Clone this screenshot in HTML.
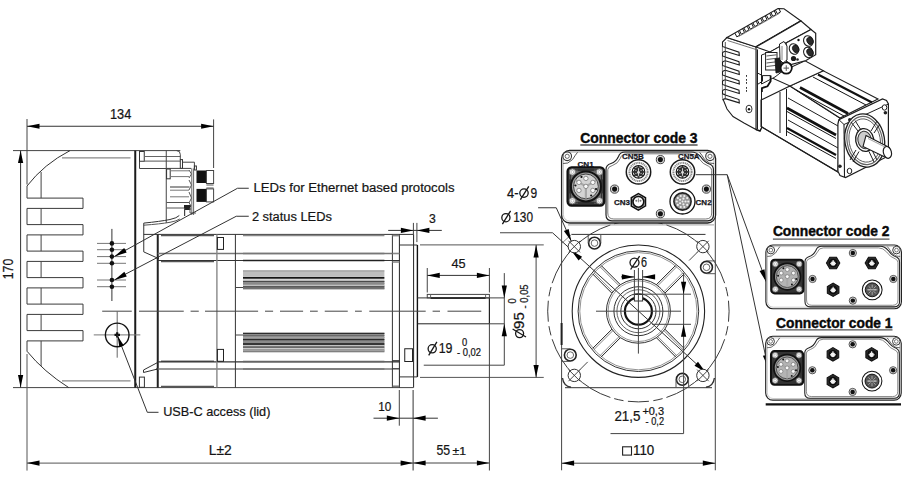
<!DOCTYPE html>
    <html><head><meta charset="utf-8"><style>
    html,body{margin:0;padding:0;background:#fff;}
    svg{display:block;}
    text{font-family:"Liberation Sans",sans-serif;}
    </style></head><body>
    <svg width="904" height="480" viewBox="0 0 904 480">
    <rect width="904" height="480" fill="#fff"/>
    <line x1="27.00" y1="119.00" x2="27.00" y2="184.50" stroke="#444" stroke-width="1" />
<line x1="213.60" y1="119.40" x2="213.60" y2="168.00" stroke="#444" stroke-width="1" />
<line x1="27.00" y1="126.25" x2="213.60" y2="126.25" stroke="#333" stroke-width="1" />
<polygon points="27.00,126.25 39.50,123.65 39.50,128.85" fill="#000"/>
<polygon points="213.60,126.25 201.10,128.85 201.10,123.65" fill="#000"/>
<text x="110.00" y="118.75" font-size="14" text-anchor="start" textLength="21.30" lengthAdjust="spacingAndGlyphs" fill="#141414"  stroke="#141414" stroke-width="0.22">134</text>
<line x1="13.00" y1="150.60" x2="180.30" y2="150.60" stroke="#444" stroke-width="1" />
<line x1="13.00" y1="387.60" x2="413.40" y2="387.60" stroke="#444" stroke-width="1" />
<line x1="20.60" y1="150.60" x2="20.60" y2="387.60" stroke="#333" stroke-width="1" />
<polygon points="20.60,150.60 23.20,163.10 18.00,163.10" fill="#000"/>
<polygon points="20.60,387.60 18.00,375.10 23.20,375.10" fill="#000"/>
<text x="13.20" y="269.00" font-size="14" text-anchor="middle" textLength="20.50" lengthAdjust="spacingAndGlyphs" transform="rotate(-90 13.20 269.00)" fill="#141414"  stroke="#141414" stroke-width="0.22">170</text>
<polyline points="27.00,186.00 27.00,198.10 83.00,198.10 83.00,208.40 27.00,208.40 27.00,224.60 83.00,224.60 83.00,234.90 27.00,234.90 27.00,251.10 83.00,251.10 83.00,261.40 27.00,261.40 27.00,277.60 83.00,277.60 83.00,287.90 27.00,287.90 27.00,304.10 83.00,304.10 83.00,314.40 27.00,314.40 27.00,330.60 83.00,330.60 83.00,340.90 27.00,340.90 27.00,351.25" fill="none" stroke="#3a3a3a" stroke-width="1" />
<path d="M27,186 Q44,164 70,150.6" fill="none" stroke="#333" stroke-width="1" />
<path d="M27,351.25 Q44,372 68.75,387.6" fill="none" stroke="#333" stroke-width="1" />
<line x1="41.10" y1="172.00" x2="41.10" y2="198.10" stroke="#444" stroke-width="1" />
<line x1="41.10" y1="208.40" x2="41.10" y2="224.60" stroke="#444" stroke-width="1" />
<line x1="41.10" y1="234.90" x2="41.10" y2="251.10" stroke="#444" stroke-width="1" />
<line x1="41.10" y1="261.40" x2="41.10" y2="277.60" stroke="#444" stroke-width="1" />
<line x1="41.10" y1="287.90" x2="41.10" y2="304.10" stroke="#444" stroke-width="1" />
<line x1="41.10" y1="314.40" x2="41.10" y2="330.60" stroke="#444" stroke-width="1" />
<line x1="41.10" y1="340.90" x2="41.10" y2="366.00" stroke="#444" stroke-width="1" />
<line x1="62.00" y1="157.90" x2="130.50" y2="157.90" stroke="#888" stroke-width="1.3" />
<line x1="62.00" y1="380.90" x2="130.50" y2="380.90" stroke="#888" stroke-width="1.3" />
<line x1="27.00" y1="354.00" x2="27.00" y2="470.60" stroke="#555" stroke-width="1" />
<line x1="135.25" y1="150.60" x2="135.25" y2="387.60" stroke="#1a1a1a" stroke-width="2" />
<line x1="139.50" y1="150.60" x2="139.50" y2="168.50" stroke="#444" stroke-width="1" />
<rect x="139.50" y="151.50" width="4.75" height="9.75" rx="0" fill="none" stroke="#333" stroke-width="1" />
<line x1="139.50" y1="168.50" x2="166.25" y2="168.50" stroke="#444" stroke-width="1" />
<line x1="144.25" y1="156.50" x2="180.30" y2="156.50" stroke="#666" stroke-width="1" />
<line x1="144.25" y1="161.10" x2="180.30" y2="161.10" stroke="#555" stroke-width="1" />
<line x1="166.25" y1="150.60" x2="166.25" y2="223.00" stroke="#444" stroke-width="1" />
<path d="M176.5,150.6 Q180.3,150.6 180.3,154.4 L180.3,159.6" fill="none" stroke="#444" stroke-width="1" />
<rect x="180.30" y="159.60" width="2.20" height="8.80" rx="0" fill="none" stroke="#333" stroke-width="1" />
<polyline points="182.50,162.20 194.40,162.20 194.40,168.40" fill="none" stroke="#444" stroke-width="1" />
<rect x="194.40" y="166.00" width="2.00" height="4.00" rx="0" fill="none" stroke="#333" stroke-width="1" />
<line x1="166.25" y1="168.40" x2="191.25" y2="168.40" stroke="#444" stroke-width="1" />
<rect x="166.60" y="169.00" width="3.60" height="9.80" rx="0" fill="none" stroke="#333" stroke-width="1" />
<line x1="170.00" y1="170.80" x2="189.00" y2="170.80" stroke="#777" stroke-width="1" />
<line x1="170.00" y1="176.60" x2="189.00" y2="176.60" stroke="#777" stroke-width="1" />
<line x1="170.00" y1="190.20" x2="189.00" y2="190.20" stroke="#777" stroke-width="1" />
<line x1="170.00" y1="196.80" x2="189.00" y2="196.80" stroke="#777" stroke-width="1" />
<line x1="170.00" y1="187.00" x2="189.50" y2="187.00" stroke="#555" stroke-width="1.2" />
<path d="M189,170 L191.5,174 L189,178" fill="none" stroke="#555" stroke-width="1" />
<path d="M189,180 L191.5,185 L189,190" fill="none" stroke="#555" stroke-width="1" />
<path d="M189,192 L191.5,198 L189,203" fill="none" stroke="#555" stroke-width="1" />
<line x1="191.80" y1="168.40" x2="191.80" y2="215.00" stroke="#666" stroke-width="1" />
<line x1="193.60" y1="168.40" x2="193.60" y2="215.00" stroke="#666" stroke-width="1" />
<rect x="196.50" y="170.50" width="9.90" height="12.50" rx="0" fill="#111" stroke="none" stroke-width="0" />
<rect x="196.50" y="188.90" width="9.90" height="13.00" rx="0" fill="#111" stroke="none" stroke-width="0" />
<rect x="206.40" y="170.50" width="7.20" height="13.00" rx="0" fill="none" stroke="#444" stroke-width="1" />
<rect x="206.40" y="188.90" width="7.20" height="13.00" rx="0" fill="none" stroke="#444" stroke-width="1" />
<line x1="206.40" y1="185.00" x2="213.60" y2="185.00" stroke="#555" stroke-width="1" />
<line x1="206.40" y1="188.00" x2="213.60" y2="188.00" stroke="#555" stroke-width="1" />
<path d="M166.5,202.5 L189,202.5 L191,206 L189,208 L166.5,208" fill="none" stroke="#555" stroke-width="1" />
<rect x="184.00" y="205.00" width="6.50" height="5.00" rx="0" fill="#222" stroke="none" stroke-width="0" />
<line x1="184.60" y1="208.00" x2="184.60" y2="216.00" stroke="#444" stroke-width="1.2" />
<polyline points="190.00,208.00 190.00,213.00 196.00,213.00" fill="none" stroke="#555" stroke-width="1" />
<path d="M143.75,223.1 Q160,221.5 170,219.5 Q177,218 179.3,215.5" fill="none" stroke="#333" stroke-width="1" />
<path d="M143.75,225.2 Q160,224 170,222.3 Q177,221 179.8,219" fill="none" stroke="#555" stroke-width="1" />
<line x1="143.75" y1="223.10" x2="143.75" y2="251.90" stroke="#333" stroke-width="1" />
<line x1="143.75" y1="251.90" x2="157.60" y2="258.10" stroke="#333" stroke-width="1" />
<circle cx="157.70" cy="258.10" r="1.20" fill="#111" stroke="none" stroke-width="0" />
<path d="M157.6,362.5 L143.5,370 L143.5,372.5 L157.6,369" fill="none" stroke="#333" stroke-width="1" />
<circle cx="157.70" cy="369.00" r="1.30" fill="#111" stroke="none" stroke-width="0" />
<rect x="139.40" y="377.10" width="5.00" height="10.20" rx="0" fill="none" stroke="#333" stroke-width="1" />
<line x1="143.75" y1="234.40" x2="413.60" y2="234.40" stroke="#333" stroke-width="1" />
<line x1="157.75" y1="234.40" x2="157.75" y2="387.60" stroke="#222" stroke-width="2" />
<line x1="161.00" y1="235.60" x2="214.00" y2="235.60" stroke="#555" stroke-width="1.3" />
<line x1="161.00" y1="361.30" x2="214.00" y2="361.30" stroke="#666" stroke-width="1.6" />
<line x1="161.00" y1="386.40" x2="214.00" y2="386.40" stroke="#555" stroke-width="1.3" />
<line x1="161.00" y1="261.50" x2="214.00" y2="261.50" stroke="#555" stroke-width="1.6" />
<line x1="157.75" y1="253.50" x2="392.40" y2="253.50" stroke="#777" stroke-width="1.3" />
<line x1="157.75" y1="260.50" x2="399.40" y2="260.50" stroke="#333" stroke-width="1.1" />
<line x1="157.75" y1="369.00" x2="392.40" y2="369.00" stroke="#777" stroke-width="1.3" />
<line x1="157.75" y1="361.90" x2="399.40" y2="361.90" stroke="#333" stroke-width="1.1" />
<line x1="216.90" y1="234.40" x2="216.90" y2="387.60" stroke="#888" stroke-width="1.4" />
<line x1="235.40" y1="234.40" x2="235.40" y2="387.60" stroke="#333" stroke-width="1" />
<rect x="217.40" y="237.50" width="6.10" height="11.90" rx="0" fill="none" stroke="#222" stroke-width="1" />
<rect x="217.40" y="349.40" width="6.10" height="11.90" rx="0" fill="none" stroke="#222" stroke-width="1" />
<line x1="235.40" y1="287.50" x2="243.00" y2="287.50" stroke="#444" stroke-width="1" />
<line x1="235.40" y1="335.00" x2="243.00" y2="335.00" stroke="#444" stroke-width="1" />
<line x1="243.00" y1="235.60" x2="384.40" y2="235.60" stroke="#888" stroke-width="1.5" />
<line x1="243.00" y1="253.50" x2="384.40" y2="253.50" stroke="#777" stroke-width="1.6" />
<line x1="243.00" y1="260.50" x2="384.40" y2="260.50" stroke="#222" stroke-width="1.3" />
<rect x="243.00" y="270.40" width="141.40" height="6.50" rx="0" fill="#bdbdbd" stroke="none" stroke-width="0" />
<rect x="243.00" y="280.40" width="141.40" height="9.00" rx="0" fill="#8c8c8c" stroke="none" stroke-width="0" />
<line x1="243.00" y1="270.90" x2="384.40" y2="270.90" stroke="#8a8a8a" stroke-width="0.8" />
<line x1="243.00" y1="277.90" x2="384.40" y2="277.90" stroke="#141414" stroke-width="1.6" />
<line x1="243.00" y1="279.70" x2="384.40" y2="279.70" stroke="#c4c4c4" stroke-width="0.9" />
<line x1="243.00" y1="281.50" x2="384.40" y2="281.50" stroke="#4a4a4a" stroke-width="1.1" />
<line x1="243.00" y1="283.40" x2="384.40" y2="283.40" stroke="#8a8a8a" stroke-width="1" />
<line x1="243.00" y1="285.30" x2="384.40" y2="285.30" stroke="#d6d6d6" stroke-width="0.9" />
<line x1="243.00" y1="286.80" x2="384.40" y2="286.80" stroke="#4a4a4a" stroke-width="1.2" />
<line x1="243.00" y1="288.60" x2="384.40" y2="288.60" stroke="#707070" stroke-width="1" />
<rect x="243.00" y="332.80" width="141.40" height="19.40" rx="0" fill="#8c8c8c" stroke="none" stroke-width="0" />
<line x1="243.00" y1="333.30" x2="384.40" y2="333.30" stroke="#2e2e2e" stroke-width="1.2" />
<line x1="243.00" y1="335.50" x2="384.40" y2="335.50" stroke="#6a6a6a" stroke-width="1" />
<line x1="243.00" y1="337.50" x2="384.40" y2="337.50" stroke="#a0a0a0" stroke-width="1" />
<line x1="243.00" y1="339.60" x2="384.40" y2="339.60" stroke="#2a2a2a" stroke-width="1.2" />
<line x1="243.00" y1="341.80" x2="384.40" y2="341.80" stroke="#8a8a8a" stroke-width="1" />
<line x1="243.00" y1="344.00" x2="384.40" y2="344.00" stroke="#1a1a1a" stroke-width="1.3" />
<line x1="243.00" y1="345.60" x2="384.40" y2="345.60" stroke="#cfcfcf" stroke-width="0.9" />
<line x1="243.00" y1="347.10" x2="384.40" y2="347.10" stroke="#555" stroke-width="1" />
<line x1="243.00" y1="348.60" x2="384.40" y2="348.60" stroke="#e2e2e2" stroke-width="0.8" />
<line x1="243.00" y1="350.30" x2="384.40" y2="350.30" stroke="#a0a0a0" stroke-width="1.4" />
<line x1="243.00" y1="351.70" x2="384.40" y2="351.70" stroke="#7a7a7a" stroke-width="0.8" />
<line x1="243.00" y1="361.50" x2="384.40" y2="361.50" stroke="#666" stroke-width="1.6" />
<line x1="243.00" y1="369.00" x2="384.40" y2="369.00" stroke="#777" stroke-width="1.3" />
<line x1="392.40" y1="234.40" x2="392.40" y2="387.60" stroke="#333" stroke-width="1" />
<line x1="399.40" y1="234.40" x2="399.40" y2="387.60" stroke="#222" stroke-width="1" />
<line x1="392.40" y1="235.60" x2="399.40" y2="235.60" stroke="#888" stroke-width="1.6" />
<line x1="392.40" y1="253.50" x2="399.40" y2="253.50" stroke="#888" stroke-width="1.6" />
<line x1="392.40" y1="262.00" x2="399.40" y2="262.00" stroke="#888" stroke-width="1.6" />
<line x1="392.40" y1="360.80" x2="399.40" y2="360.80" stroke="#333" stroke-width="1.3" />
<line x1="392.40" y1="368.80" x2="399.40" y2="368.80" stroke="#333" stroke-width="1.3" />
<line x1="392.40" y1="386.20" x2="399.40" y2="386.20" stroke="#666" stroke-width="1.3" />
<line x1="413.60" y1="234.40" x2="413.60" y2="387.60" stroke="#222" stroke-width="1" />
<line x1="399.40" y1="245.00" x2="417.30" y2="245.00" stroke="#333" stroke-width="1" />
<line x1="399.40" y1="376.90" x2="417.30" y2="376.90" stroke="#333" stroke-width="1" />
<line x1="417.40" y1="245.00" x2="417.40" y2="376.90" stroke="#111" stroke-width="1.4" />
<rect x="404.75" y="348.75" width="7.75" height="12.75" rx="0" fill="none" stroke="#222" stroke-width="1" />
<line x1="102.20" y1="311.20" x2="131.75" y2="311.20" stroke="#444" stroke-width="1" />
<line x1="139.00" y1="311.20" x2="183.75" y2="311.20" stroke="#444" stroke-width="1" />
<line x1="190.60" y1="311.20" x2="198.75" y2="311.20" stroke="#444" stroke-width="1" />
<line x1="205.00" y1="311.20" x2="258.10" y2="311.20" stroke="#444" stroke-width="1" />
<line x1="265.00" y1="311.20" x2="273.10" y2="311.20" stroke="#444" stroke-width="1" />
<line x1="280.00" y1="311.20" x2="303.10" y2="311.20" stroke="#444" stroke-width="1" />
<line x1="310.00" y1="311.20" x2="317.75" y2="311.20" stroke="#444" stroke-width="1" />
<line x1="324.75" y1="311.20" x2="347.75" y2="311.20" stroke="#444" stroke-width="1" />
<line x1="355.00" y1="311.20" x2="361.80" y2="311.20" stroke="#444" stroke-width="1" />
<line x1="369.30" y1="311.20" x2="425.70" y2="311.20" stroke="#444" stroke-width="1" />
<line x1="432.60" y1="311.20" x2="440.00" y2="311.20" stroke="#444" stroke-width="1" />
<line x1="447.50" y1="311.20" x2="481.25" y2="311.20" stroke="#444" stroke-width="1" />
<line x1="417.40" y1="297.90" x2="489.40" y2="297.90" stroke="#333" stroke-width="1" />
<line x1="417.40" y1="323.80" x2="489.40" y2="323.80" stroke="#222" stroke-width="1" />
<line x1="489.40" y1="297.90" x2="489.40" y2="323.80" stroke="#222" stroke-width="1.2" />
<rect x="427.25" y="294.40" width="62.15" height="3.50" rx="0" fill="none" stroke="#444" stroke-width="1" />
<line x1="430.60" y1="294.40" x2="430.60" y2="297.90" stroke="#666" stroke-width="1" />
<line x1="485.60" y1="294.40" x2="485.60" y2="297.90" stroke="#666" stroke-width="1" />
<line x1="430.60" y1="298.20" x2="485.60" y2="298.20" stroke="#111" stroke-width="1.3" />
<line x1="413.40" y1="222.90" x2="413.40" y2="234.40" stroke="#444" stroke-width="1" />
<line x1="416.90" y1="222.90" x2="416.90" y2="242.10" stroke="#444" stroke-width="1" />
<line x1="388.20" y1="230.40" x2="441.80" y2="230.40" stroke="#333" stroke-width="1" />
<polygon points="413.40,230.40 400.90,233.00 400.90,227.80" fill="#000"/>
<polygon points="416.90,230.40 429.40,227.80 429.40,233.00" fill="#000"/>
<text x="429.00" y="222.60" font-size="13.4" text-anchor="start" textLength="6.80" lengthAdjust="spacingAndGlyphs" fill="#141414"  stroke="#141414" stroke-width="0.22">3</text>
<line x1="427.25" y1="268.00" x2="427.25" y2="292.50" stroke="#444" stroke-width="1" />
<line x1="489.40" y1="268.00" x2="489.40" y2="292.50" stroke="#444" stroke-width="1" />
<line x1="427.25" y1="275.40" x2="489.40" y2="275.40" stroke="#333" stroke-width="1" />
<polygon points="427.25,275.40 439.75,272.80 439.75,278.00" fill="#000"/>
<polygon points="489.40,275.40 476.90,278.00 476.90,272.80" fill="#000"/>
<text x="451.50" y="267.90" font-size="13.6" text-anchor="start" textLength="14.20" lengthAdjust="spacingAndGlyphs" fill="#141414"  stroke="#141414" stroke-width="0.22">45</text>
<line x1="420.00" y1="244.90" x2="543.75" y2="244.90" stroke="#555" stroke-width="1" />
<line x1="420.00" y1="377.40" x2="543.75" y2="377.40" stroke="#555" stroke-width="1" />
<line x1="536.10" y1="244.90" x2="536.10" y2="377.40" stroke="#444" stroke-width="1" />
<polygon points="536.10,244.90 538.70,257.40 533.50,257.40" fill="#000"/>
<polygon points="536.10,377.40 533.50,364.90 538.70,364.90" fill="#000"/>
<g transform="translate(523.8 337.6) rotate(-90)"><circle cx="4.00" cy="-4.20" r="4.00" fill="none" stroke="#161616" stroke-width="1.3"/><line x1="0.60" y1="2.20" x2="8.60" y2="-11.20" stroke="#161616" stroke-width="1.3"/></g>
<text x="523.80" y="328.90" font-size="14" text-anchor="start" textLength="16.70" lengthAdjust="spacingAndGlyphs" transform="rotate(-90 523.80 328.90)" fill="#141414"  stroke="#141414" stroke-width="0.22">95</text>
<text x="516.40" y="303.40" font-size="10.5" text-anchor="start" textLength="5.20" lengthAdjust="spacingAndGlyphs" transform="rotate(-90 516.40 303.40)" fill="#141414"  stroke="#141414" stroke-width="0.22">0</text>
<text x="527.60" y="308.40" font-size="10.5" text-anchor="start" textLength="24.00" lengthAdjust="spacingAndGlyphs" transform="rotate(-90 527.60 308.40)" fill="#141414"  stroke="#141414" stroke-width="0.22">- 0,05</text>
<line x1="489.40" y1="297.90" x2="504.30" y2="297.90" stroke="#444" stroke-width="1" />
<line x1="489.40" y1="323.80" x2="504.30" y2="323.80" stroke="#444" stroke-width="1" />
<line x1="504.30" y1="273.10" x2="504.30" y2="365.20" stroke="#444" stroke-width="1" />
<line x1="423.75" y1="365.20" x2="504.30" y2="365.20" stroke="#444" stroke-width="1" />
<polygon points="504.30,297.90 501.70,285.40 506.90,285.40" fill="#000"/>
<polygon points="504.30,323.80 506.90,336.30 501.70,336.30" fill="#000"/>
<circle cx="432.20" cy="348.80" r="4.10" fill="none" stroke="#161616" stroke-width="1.3"/><line x1="428.70" y1="355.30" x2="436.90" y2="341.90" stroke="#161616" stroke-width="1.3"/>
<text x="438.70" y="353.10" font-size="14" text-anchor="start" textLength="13.80" lengthAdjust="spacingAndGlyphs" fill="#141414"  stroke="#141414" stroke-width="0.22">19</text>
<text x="462.00" y="345.60" font-size="10" text-anchor="start" textLength="5.20" lengthAdjust="spacingAndGlyphs" fill="#141414"  stroke="#141414" stroke-width="0.22">0</text>
<text x="457.00" y="355.60" font-size="10" text-anchor="start" textLength="24.00" lengthAdjust="spacingAndGlyphs" fill="#141414"  stroke="#141414" stroke-width="0.22">- 0,02</text>
<line x1="489.40" y1="323.80" x2="489.40" y2="470.50" stroke="#444" stroke-width="1" />
<line x1="399.30" y1="390.00" x2="399.30" y2="425.70" stroke="#444" stroke-width="1" />
<line x1="413.10" y1="390.00" x2="413.10" y2="470.50" stroke="#333" stroke-width="1" />
<line x1="373.50" y1="418.20" x2="437.90" y2="418.20" stroke="#333" stroke-width="1" />
<polygon points="399.30,418.20 386.80,420.80 386.80,415.60" fill="#000"/>
<polygon points="413.10,418.20 425.60,415.60 425.60,420.80" fill="#000"/>
<text x="378.20" y="410.70" font-size="13.7" text-anchor="start" textLength="13.10" lengthAdjust="spacingAndGlyphs" fill="#141414"  stroke="#141414" stroke-width="0.22">10</text>
<line x1="413.10" y1="463.00" x2="489.40" y2="463.00" stroke="#444" stroke-width="1" />
<polygon points="413.10,463.00 425.60,460.40 425.60,465.60" fill="#000"/>
<polygon points="489.40,463.00 476.90,465.60 476.90,460.40" fill="#000"/>
<text x="436.40" y="455.20" font-size="14" text-anchor="start" textLength="13.70" lengthAdjust="spacingAndGlyphs" fill="#141414"  stroke="#141414" stroke-width="0.22">55</text>
<text x="452.60" y="455.20" font-size="10" text-anchor="start" textLength="13.50" lengthAdjust="spacingAndGlyphs" fill="#141414"  stroke="#141414" stroke-width="0.22">±1</text>
<line x1="27.00" y1="463.10" x2="413.10" y2="463.10" stroke="#555" stroke-width="1" />
<polygon points="27.00,463.10 39.50,460.50 39.50,465.70" fill="#000"/>
<polygon points="413.10,463.10 400.60,465.70 400.60,460.50" fill="#000"/>
<text x="208.75" y="455.20" font-size="14" text-anchor="start" textLength="23.00" lengthAdjust="spacingAndGlyphs" fill="#141414"  stroke="#141414" stroke-width="0.22">L±2</text>
<line x1="111.90" y1="228.90" x2="111.90" y2="301.00" stroke="#333" stroke-width="1" />
<line x1="97.00" y1="243.40" x2="126.00" y2="243.40" stroke="#777" stroke-width="1" />
<circle cx="111.90" cy="243.40" r="2.30" fill="#111" stroke="none" stroke-width="0" />
<line x1="97.00" y1="249.70" x2="126.00" y2="249.70" stroke="#777" stroke-width="1" />
<circle cx="111.90" cy="249.70" r="2.30" fill="#111" stroke="none" stroke-width="0" />
<line x1="97.00" y1="256.60" x2="126.00" y2="256.60" stroke="#777" stroke-width="1" />
<circle cx="111.90" cy="256.60" r="2.30" fill="#111" stroke="none" stroke-width="0" />
<line x1="97.00" y1="263.30" x2="126.00" y2="263.30" stroke="#777" stroke-width="1" />
<circle cx="111.90" cy="263.30" r="2.30" fill="#111" stroke="none" stroke-width="0" />
<line x1="97.00" y1="280.00" x2="126.00" y2="280.00" stroke="#777" stroke-width="1" />
<circle cx="111.90" cy="280.00" r="2.30" fill="#111" stroke="none" stroke-width="0" />
<line x1="97.00" y1="286.70" x2="126.00" y2="286.70" stroke="#777" stroke-width="1" />
<circle cx="111.90" cy="286.70" r="2.30" fill="#111" stroke="none" stroke-width="0" />
<polyline points="248.75,188.25 237.50,188.25 114.50,256.40" fill="none" stroke="#333" stroke-width="1" />
<polygon points="114.50,256.40 124.17,248.06 126.69,252.61" fill="#000"/>
<polyline points="248.75,216.25 236.25,216.25 114.50,279.90" fill="none" stroke="#333" stroke-width="1" />
<polygon points="114.50,279.90 124.37,271.80 126.78,276.41" fill="#000"/>
<text x="253.50" y="192.30" font-size="13.7" text-anchor="start" textLength="201.00" lengthAdjust="spacingAndGlyphs" fill="#141414"  stroke="#141414" stroke-width="0.22">LEDs for Ethernet based protocols</text>
<text x="251.90" y="220.60" font-size="13.7" text-anchor="start" textLength="80.00" lengthAdjust="spacingAndGlyphs" fill="#141414"  stroke="#141414" stroke-width="0.22">2 status LEDs</text>
<line x1="117.20" y1="311.20" x2="117.20" y2="357.70" stroke="#666" stroke-width="1" />
<line x1="93.75" y1="334.90" x2="140.30" y2="334.90" stroke="#777" stroke-width="1" />
<circle cx="117.20" cy="334.90" r="11.80" fill="none" stroke="#111" stroke-width="1.4" />
<path d="M114.5,334.9 L120,334.9 M117.2,332.2 L117.2,337.5" fill="none" stroke="#111" stroke-width="2.2" />
<polyline points="158.50,412.30 147.30,412.30 117.20,334.90" fill="none" stroke="#333" stroke-width="1" />
<polygon points="117.60,336.00 123.82,345.38 119.35,347.12" fill="#000"/>
<text x="163.20" y="416.20" font-size="13.6" text-anchor="start" textLength="107.20" lengthAdjust="spacingAndGlyphs" fill="#141414"  stroke="#141414" stroke-width="0.22">USB-C access (lid)</text>
<text x="580.30" y="142.50" font-size="13.9" text-anchor="start" font-weight="bold" textLength="117.30" lengthAdjust="spacingAndGlyphs" fill="#0a0a0a" stroke="#0a0a0a" stroke-width="0.4">Connector code 3</text>
<line x1="580.30" y1="145.00" x2="697.60" y2="145.00" stroke="#555" stroke-width="1.3" />
<text x="772.90" y="236.40" font-size="13.9" text-anchor="start" font-weight="bold" textLength="116.60" lengthAdjust="spacingAndGlyphs" fill="#0a0a0a" stroke="#0a0a0a" stroke-width="0.4">Connector code 2</text>
<line x1="772.90" y1="239.10" x2="889.50" y2="239.10" stroke="#555" stroke-width="1.3" />
<text x="776.00" y="328.00" font-size="13.9" text-anchor="start" font-weight="bold" textLength="116.50" lengthAdjust="spacingAndGlyphs" fill="#0a0a0a" stroke="#0a0a0a" stroke-width="0.4">Connector code 1</text>
<line x1="776.00" y1="329.90" x2="892.50" y2="329.90" stroke="#555" stroke-width="1.3" />
<line x1="561.60" y1="160.00" x2="561.60" y2="470.30" stroke="#444" stroke-width="1" />
<line x1="561.60" y1="323.00" x2="561.60" y2="345.00" stroke="#222" stroke-width="2" />
<line x1="715.30" y1="160.00" x2="715.30" y2="470.30" stroke="#444" stroke-width="1" />
<line x1="571.50" y1="234.40" x2="705.50" y2="234.40" stroke="#333" stroke-width="1" />
<line x1="565.00" y1="387.70" x2="712.00" y2="387.70" stroke="#333" stroke-width="1" />
<line x1="561.60" y1="243.50" x2="571.50" y2="234.40" stroke="#666" stroke-width="0.8" />
<path d="M562.5,378 Q563.5,386 571,387.3" fill="none" stroke="#333" stroke-width="1.4" />
<path d="M714.4,378 Q713.4,386 706,387.3" fill="none" stroke="#333" stroke-width="1.4" />
<path d="M725.81,287.00 A90.7,90.7 0 0 1 727.86,296.27" fill="none" stroke="#3a3a3a" stroke-width="1" />
<path d="M728.49,300.72 A90.7,90.7 0 0 1 728.49,321.68" fill="none" stroke="#3a3a3a" stroke-width="1" />
<path d="M727.86,326.13 A90.7,90.7 0 0 1 725.81,335.40" fill="none" stroke="#3a3a3a" stroke-width="1" />
<path d="M724.66,339.23 A90.7,90.7 0 0 1 666.43,397.46" fill="none" stroke="#3a3a3a" stroke-width="1" />
<path d="M662.60,398.61 A90.7,90.7 0 0 1 653.33,400.66" fill="none" stroke="#3a3a3a" stroke-width="1" />
<path d="M648.88,401.29 A90.7,90.7 0 0 1 627.92,401.29" fill="none" stroke="#3a3a3a" stroke-width="1" />
<path d="M623.47,400.66 A90.7,90.7 0 0 1 614.20,398.61" fill="none" stroke="#3a3a3a" stroke-width="1" />
<path d="M610.37,397.46 A90.7,90.7 0 0 1 552.14,339.23" fill="none" stroke="#3a3a3a" stroke-width="1" />
<path d="M550.99,335.40 A90.7,90.7 0 0 1 548.94,326.13" fill="none" stroke="#3a3a3a" stroke-width="1" />
<path d="M548.31,321.68 A90.7,90.7 0 0 1 548.31,300.72" fill="none" stroke="#3a3a3a" stroke-width="1" />
<path d="M548.94,296.27 A90.7,90.7 0 0 1 550.99,287.00" fill="none" stroke="#3a3a3a" stroke-width="1" />
<path d="M552.14,283.17 A90.7,90.7 0 0 1 610.37,224.94" fill="none" stroke="#3a3a3a" stroke-width="1" />
<path d="M614.20,223.79 A90.7,90.7 0 0 1 623.47,221.74" fill="none" stroke="#3a3a3a" stroke-width="1" />
<path d="M627.92,221.11 A90.7,90.7 0 0 1 648.88,221.11" fill="none" stroke="#3a3a3a" stroke-width="1" />
<path d="M653.33,221.74 A90.7,90.7 0 0 1 662.60,223.79" fill="none" stroke="#3a3a3a" stroke-width="1" />
<path d="M666.43,224.94 A90.7,90.7 0 0 1 724.66,283.17" fill="none" stroke="#3a3a3a" stroke-width="1" />
<circle cx="638.40" cy="311.20" r="66.20" fill="none" stroke="#222" stroke-width="1.1" />
<circle cx="638.40" cy="311.20" r="60.30" fill="none" stroke="#333" stroke-width="1.0" />
<circle cx="638.40" cy="311.20" r="58.60" fill="none" stroke="#777" stroke-width="0.8" />
<line x1="656.08" y1="337.36" x2="675.59" y2="356.88" stroke="#222" stroke-width="1" />
<line x1="657.28" y1="336.16" x2="676.80" y2="355.68" stroke="#666" stroke-width="0.8" />
<line x1="664.56" y1="328.88" x2="684.08" y2="348.39" stroke="#222" stroke-width="1" />
<line x1="663.36" y1="330.08" x2="682.88" y2="349.60" stroke="#666" stroke-width="0.8" />
<line x1="612.24" y1="328.88" x2="592.72" y2="348.39" stroke="#222" stroke-width="1" />
<line x1="613.44" y1="330.08" x2="593.92" y2="349.60" stroke="#666" stroke-width="0.8" />
<line x1="620.72" y1="337.36" x2="601.21" y2="356.88" stroke="#222" stroke-width="1" />
<line x1="619.52" y1="336.16" x2="600.00" y2="355.68" stroke="#666" stroke-width="0.8" />
<line x1="620.72" y1="285.04" x2="601.21" y2="265.52" stroke="#222" stroke-width="1" />
<line x1="619.52" y1="286.24" x2="600.00" y2="266.72" stroke="#666" stroke-width="0.8" />
<line x1="612.24" y1="293.52" x2="592.72" y2="274.01" stroke="#222" stroke-width="1" />
<line x1="613.44" y1="292.32" x2="593.92" y2="272.80" stroke="#666" stroke-width="0.8" />
<line x1="664.56" y1="293.52" x2="684.08" y2="274.01" stroke="#222" stroke-width="1" />
<line x1="663.36" y1="292.32" x2="682.88" y2="272.80" stroke="#666" stroke-width="0.8" />
<line x1="656.08" y1="285.04" x2="675.59" y2="265.52" stroke="#222" stroke-width="1" />
<line x1="657.28" y1="286.24" x2="676.80" y2="266.72" stroke="#666" stroke-width="0.8" />
<circle cx="638.40" cy="311.20" r="32.00" fill="#fff" stroke="#333" stroke-width="1" />
<circle cx="638.40" cy="311.20" r="30.30" fill="none" stroke="#777" stroke-width="0.8" />
<circle cx="638.40" cy="311.20" r="24.50" fill="none" stroke="#333" stroke-width="1" />
<circle cx="638.40" cy="311.20" r="21.50" fill="none" stroke="#555" stroke-width="0.9" />
<circle cx="638.40" cy="311.20" r="17.60" fill="none" stroke="#333" stroke-width="1" />
<circle cx="638.40" cy="311.20" r="13.50" fill="#fff" stroke="#111" stroke-width="2.2" />
<rect x="634.40" y="294.50" width="8.20" height="6.50" rx="0" fill="#fff" stroke="#333" stroke-width="1" />
<line x1="596.00" y1="311.20" x2="681.00" y2="311.20" stroke="#444" stroke-width="1" />
<line x1="638.40" y1="268.00" x2="638.40" y2="353.60" stroke="#444" stroke-width="1" />
<line x1="634.40" y1="270.00" x2="634.40" y2="300.00" stroke="#444" stroke-width="1" />
<line x1="642.60" y1="270.00" x2="642.60" y2="300.00" stroke="#444" stroke-width="1" />
<line x1="552.50" y1="232.75" x2="706.00" y2="372.60" stroke="#333" stroke-width="1" />
<line x1="500.00" y1="232.75" x2="552.50" y2="232.75" stroke="#444" stroke-width="1" />
<polygon points="571.10,250.30 582.11,256.76 578.62,260.62" fill="#000"/>
<polygon points="705.50,372.10 694.49,365.64 697.98,361.78" fill="#000"/>
<circle cx="574.30" cy="246.60" r="6.20" fill="#fff" stroke="#333" stroke-width="1" />
<line x1="568.50" y1="240.80" x2="580.10" y2="252.40" stroke="#333" stroke-width="0.9" />
<line x1="568.50" y1="252.40" x2="580.10" y2="240.80" stroke="#333" stroke-width="0.9" />
<circle cx="702.90" cy="246.60" r="6.20" fill="#fff" stroke="#333" stroke-width="1" />
<line x1="697.10" y1="240.80" x2="708.70" y2="252.40" stroke="#333" stroke-width="0.9" />
<line x1="697.10" y1="252.40" x2="708.70" y2="240.80" stroke="#333" stroke-width="0.9" />
<circle cx="574.30" cy="375.40" r="6.20" fill="#fff" stroke="#333" stroke-width="1" />
<line x1="568.50" y1="369.60" x2="580.10" y2="381.20" stroke="#333" stroke-width="0.9" />
<line x1="568.50" y1="381.20" x2="580.10" y2="369.60" stroke="#333" stroke-width="0.9" />
<circle cx="702.90" cy="375.40" r="6.20" fill="#fff" stroke="#333" stroke-width="1" />
<line x1="697.10" y1="369.60" x2="708.70" y2="381.20" stroke="#333" stroke-width="0.9" />
<line x1="697.10" y1="381.20" x2="708.70" y2="369.60" stroke="#333" stroke-width="0.9" />
<line x1="697.58" y1="252.02" x2="689.10" y2="260.50" stroke="#333" stroke-width="0.9" />
<line x1="579.22" y1="370.38" x2="587.70" y2="361.90" stroke="#333" stroke-width="0.9" />
<circle cx="594.50" cy="243.10" r="5.90" fill="#fff" stroke="#222" stroke-width="1.6" />
<circle cx="594.50" cy="243.10" r="3.30" fill="none" stroke="#555" stroke-width="0.9" />
<circle cx="706.50" cy="267.30" r="5.90" fill="#fff" stroke="#222" stroke-width="1.6" />
<circle cx="706.50" cy="267.30" r="3.30" fill="none" stroke="#555" stroke-width="0.9" />
<circle cx="682.30" cy="379.30" r="5.90" fill="#fff" stroke="#222" stroke-width="1.6" />
<circle cx="682.30" cy="379.30" r="3.30" fill="none" stroke="#555" stroke-width="0.9" />
<circle cx="570.30" cy="355.10" r="5.90" fill="#fff" stroke="#222" stroke-width="1.6" />
<circle cx="570.30" cy="355.10" r="3.30" fill="none" stroke="#555" stroke-width="0.9" />
<polyline points="588.20,234.40 588.20,243.10" fill="none" stroke="#555" stroke-width="1" />
<polyline points="600.80,234.40 600.80,243.10" fill="none" stroke="#555" stroke-width="1" />
<polyline points="715.30,260.90 706.50,260.90" fill="none" stroke="#555" stroke-width="1" />
<polyline points="715.30,273.70 706.50,273.70" fill="none" stroke="#555" stroke-width="1" />
<polyline points="676.00,387.70 676.00,379.30" fill="none" stroke="#555" stroke-width="1" />
<polyline points="688.60,387.70 688.60,379.30" fill="none" stroke="#555" stroke-width="1" />
<polyline points="561.60,348.80 570.30,348.80" fill="none" stroke="#555" stroke-width="1" />
<polyline points="561.60,361.40 570.30,361.40" fill="none" stroke="#555" stroke-width="1" />
<polyline points="538.10,207.75 556.25,207.75 571.40,241.40" fill="none" stroke="#333" stroke-width="1" />
<polygon points="571.40,241.40 563.90,231.07 568.64,228.93" fill="#000"/>
<text x="507.10" y="197.50" font-size="13.8" text-anchor="start" textLength="11.50" lengthAdjust="spacingAndGlyphs" fill="#141414"  stroke="#141414" stroke-width="0.22">4-</text>
<circle cx="524.00" cy="193.10" r="4.20" fill="none" stroke="#161616" stroke-width="1.3"/><line x1="520.40" y1="199.70" x2="528.80" y2="186.30" stroke="#161616" stroke-width="1.3"/>
<text x="530.60" y="197.50" font-size="13.8" text-anchor="start" textLength="6.70" lengthAdjust="spacingAndGlyphs" fill="#141414"  stroke="#141414" stroke-width="0.22">9</text>
<circle cx="505.90" cy="217.70" r="4.10" fill="none" stroke="#161616" stroke-width="1.3"/><line x1="502.40" y1="224.20" x2="510.60" y2="210.80" stroke="#161616" stroke-width="1.3"/>
<text x="513.30" y="222.00" font-size="13.8" text-anchor="start" textLength="19.70" lengthAdjust="spacingAndGlyphs" fill="#141414"  stroke="#141414" stroke-width="0.22">130</text>
<line x1="621.00" y1="276.90" x2="634.40" y2="276.90" stroke="#333" stroke-width="1" />
<line x1="642.60" y1="276.90" x2="655.00" y2="276.90" stroke="#333" stroke-width="1" />
<polygon points="634.40,276.90 621.90,279.50 621.90,274.30" fill="#000"/>
<polygon points="642.60,276.90 655.10,274.30 655.10,279.50" fill="#000"/>
<circle cx="634.50" cy="262.60" r="4.50" fill="none" stroke="#161616" stroke-width="1.3"/><line x1="630.60" y1="269.50" x2="639.60" y2="256.10" stroke="#161616" stroke-width="1.3"/>
<text x="640.90" y="267.30" font-size="13.8" text-anchor="start" textLength="6.00" lengthAdjust="spacingAndGlyphs" fill="#141414"  stroke="#141414" stroke-width="0.22">6</text>
<line x1="643.00" y1="294.20" x2="691.00" y2="294.20" stroke="#444" stroke-width="1" />
<line x1="652.00" y1="324.30" x2="691.00" y2="324.30" stroke="#444" stroke-width="1" />
<line x1="683.60" y1="273.00" x2="683.60" y2="433.60" stroke="#444" stroke-width="1" />
<polygon points="683.60,294.20 681.00,281.70 686.20,281.70" fill="#000"/>
<polygon points="683.60,324.30 686.20,336.80 681.00,336.80" fill="#000"/>
<line x1="610.50" y1="433.60" x2="683.60" y2="433.60" stroke="#444" stroke-width="1" />
<text x="614.40" y="420.60" font-size="13.8" text-anchor="start" textLength="26.00" lengthAdjust="spacingAndGlyphs" fill="#141414"  stroke="#141414" stroke-width="0.22">21,5</text>
<text x="642.40" y="415.00" font-size="10.2" text-anchor="start" textLength="21.60" lengthAdjust="spacingAndGlyphs" fill="#141414"  stroke="#141414" stroke-width="0.22">+0,3</text>
<text x="645.60" y="425.00" font-size="10.2" text-anchor="start" textLength="18.40" lengthAdjust="spacingAndGlyphs" fill="#141414"  stroke="#141414" stroke-width="0.22">- 0,2</text>
<line x1="561.60" y1="463.20" x2="715.30" y2="463.20" stroke="#444" stroke-width="1" />
<polygon points="561.60,463.20 574.10,460.60 574.10,465.80" fill="#000"/>
<polygon points="715.30,463.20 702.80,465.80 702.80,460.60" fill="#000"/>
<rect x="622.60" y="446.80" width="8.90" height="8.30" rx="0" fill="none" stroke="#222" stroke-width="1.1" />
<text x="633.00" y="455.10" font-size="14.2" text-anchor="start" textLength="21.30" lengthAdjust="spacingAndGlyphs" fill="#141414"  stroke="#141414" stroke-width="0.22">110</text>
<rect x="561.60" y="150.50" width="154.00" height="72.50" rx="8.0" fill="#fff" stroke="#222" stroke-width="1.3" />
<rect x="563.40" y="152.30" width="150.40" height="68.90" rx="6.5" fill="none" stroke="#aaa" stroke-width="0.7" />
<circle cx="567.20" cy="156.30" r="4.30" fill="#fff" stroke="#333" stroke-width="1.1" />
<circle cx="567.20" cy="156.30" r="2.10" fill="none" stroke="#555" stroke-width="0.9" />
<circle cx="710.00" cy="156.30" r="4.30" fill="#fff" stroke="#333" stroke-width="1.1" />
<circle cx="710.00" cy="156.30" r="2.10" fill="none" stroke="#555" stroke-width="0.9" />
<path d="M563.10,163.50 Q567.60,164.50 572.60,159.50 Q575.60,154.50 577.60,152.30" fill="none" stroke="#444" stroke-width="0.9" />
<path d="M714.10,163.50 Q709.60,164.50 704.60,159.50 Q701.60,154.50 699.60,152.30" fill="none" stroke="#444" stroke-width="0.9" />
<path d="M606.00,214.80 L606.00,169.50 Q606.00,165.00 611.00,163.50 Q616.00,162.00 618.50,156.50 Q620.00,152.00 625.00,152.00 L691.50,152.00 Q696.50,152.00 700.50,156.50 Q704.50,162.50 710.50,164.50 Q713.50,166.00 713.50,170.50 L713.50,214.80 Q713.50,220.80 707.50,220.80 L612.00,220.80 Q606.00,220.80 606.00,214.80 Z" fill="none" stroke="#222" stroke-width="1.2" />
<path d="M607.80,213.00 L607.80,169.50 Q607.80,166.80 612.80,165.30 Q617.80,163.80 620.30,158.30 Q621.80,153.80 626.80,153.80 L689.70,153.80 Q694.70,153.80 698.70,158.30 Q702.70,164.30 708.70,166.30 Q711.70,167.80 711.70,170.50 L711.70,213.00 Q711.70,219.00 705.70,219.00 L613.80,219.00 Q607.80,219.00 607.80,213.00 Z" fill="none" stroke="#666" stroke-width="0.9" />
<rect x="567.60" y="167.30" width="36.60" height="38.20" rx="4.0" fill="#6a6a6a" stroke="#111" stroke-width="2.3" />
<rect x="570.20" y="169.90" width="31.40" height="33.00" rx="3.0" fill="none" stroke="#333" stroke-width="1.3" />
<rect x="577.90" y="168.50" width="16.00" height="2.60" rx="0" fill="#333" stroke="none" stroke-width="0" />
<rect x="577.90" y="201.70" width="16.00" height="2.60" rx="0" fill="#333" stroke="none" stroke-width="0" />
<rect x="568.80" y="179.40" width="2.40" height="14.00" rx="0" fill="#333" stroke="none" stroke-width="0" />
<rect x="600.60" y="179.40" width="2.40" height="14.00" rx="0" fill="#333" stroke="none" stroke-width="0" />
<circle cx="572.40" cy="172.00" r="3.10" fill="#fafafa" stroke="#777" stroke-width="0.9" />
<circle cx="572.40" cy="172.00" r="1.50" fill="#fff" stroke="#999" stroke-width="0.6" />
<circle cx="599.40" cy="172.00" r="3.10" fill="#fafafa" stroke="#777" stroke-width="0.9" />
<circle cx="599.40" cy="172.00" r="1.50" fill="#fff" stroke="#999" stroke-width="0.6" />
<circle cx="572.40" cy="200.80" r="3.10" fill="#fafafa" stroke="#777" stroke-width="0.9" />
<circle cx="572.40" cy="200.80" r="1.50" fill="#fff" stroke="#999" stroke-width="0.6" />
<circle cx="599.40" cy="200.80" r="3.10" fill="#fafafa" stroke="#777" stroke-width="0.9" />
<circle cx="599.40" cy="200.80" r="1.50" fill="#fff" stroke="#999" stroke-width="0.6" />
<circle cx="585.90" cy="186.40" r="15.00" fill="#9a9a9a" stroke="#111" stroke-width="2.0" />
<circle cx="585.90" cy="186.40" r="12.40" fill="#d4d4d4" stroke="#444" stroke-width="1.0" />
<line x1="585.90" y1="186.40" x2="585.90" y2="198.40" stroke="#a8a8a8" stroke-width="2.2" />
<line x1="585.90" y1="186.40" x2="575.51" y2="180.40" stroke="#a8a8a8" stroke-width="2.2" />
<line x1="585.90" y1="186.40" x2="596.29" y2="180.40" stroke="#a8a8a8" stroke-width="2.2" />
<circle cx="585.90" cy="178.40" r="2.20" fill="#fafafa" stroke="#777" stroke-width="0.8" />
<circle cx="578.97" cy="182.40" r="2.20" fill="#fafafa" stroke="#777" stroke-width="0.8" />
<circle cx="592.83" cy="182.40" r="2.20" fill="#fafafa" stroke="#777" stroke-width="0.8" />
<circle cx="592.83" cy="190.40" r="2.20" fill="#fafafa" stroke="#777" stroke-width="0.8" />
<circle cx="578.97" cy="190.40" r="2.20" fill="#fafafa" stroke="#777" stroke-width="0.8" />
<circle cx="585.90" cy="186.40" r="2.20" fill="#fafafa" stroke="#777" stroke-width="0.8" />
<circle cx="581.46" cy="176.88" r="1.10" fill="#111" stroke="none" stroke-width="0" />
<circle cx="575.44" cy="185.48" r="1.10" fill="#111" stroke="none" stroke-width="0" />
<circle cx="596.04" cy="189.12" r="1.10" fill="#111" stroke="none" stroke-width="0" />
<circle cx="591.15" cy="195.49" r="1.10" fill="#111" stroke="none" stroke-width="0" />
<circle cx="660.40" cy="159.60" r="4.10" fill="#d8d8d8" stroke="#444" stroke-width="1.0" />
<circle cx="660.40" cy="159.60" r="2.54" fill="#111" stroke="none" stroke-width="0" />
<circle cx="614.60" cy="189.10" r="4.10" fill="#d8d8d8" stroke="#444" stroke-width="1.0" />
<circle cx="614.60" cy="189.10" r="2.54" fill="#111" stroke="none" stroke-width="0" />
<circle cx="706.40" cy="189.10" r="4.10" fill="#d8d8d8" stroke="#444" stroke-width="1.0" />
<circle cx="706.40" cy="189.10" r="2.54" fill="#111" stroke="none" stroke-width="0" />
<circle cx="660.40" cy="213.70" r="4.10" fill="#d8d8d8" stroke="#444" stroke-width="1.0" />
<circle cx="660.40" cy="213.70" r="2.54" fill="#111" stroke="none" stroke-width="0" />
<circle cx="638.50" cy="171.90" r="12.20" fill="#fff" stroke="#1a1a1a" stroke-width="1.5" />
<circle cx="638.50" cy="171.90" r="9.10" fill="none" stroke="#8a8a8a" stroke-width="2.0" stroke-dasharray="1.20 0.60"/>
<circle cx="638.50" cy="171.90" r="6.30" fill="#fff" stroke="#111" stroke-width="1.2" />
<circle cx="638.50" cy="171.90" r="4.90" fill="#2e2e2e" stroke="none" stroke-width="0" />
<circle cx="643.70" cy="171.90" r="0.90" fill="#2e2e2e" stroke="none" stroke-width="0" />
<circle cx="642.18" cy="175.58" r="0.90" fill="#2e2e2e" stroke="none" stroke-width="0" />
<circle cx="638.50" cy="177.10" r="0.90" fill="#2e2e2e" stroke="none" stroke-width="0" />
<circle cx="634.82" cy="175.58" r="0.90" fill="#2e2e2e" stroke="none" stroke-width="0" />
<circle cx="633.30" cy="171.90" r="0.90" fill="#2e2e2e" stroke="none" stroke-width="0" />
<circle cx="634.82" cy="168.22" r="0.90" fill="#2e2e2e" stroke="none" stroke-width="0" />
<circle cx="638.50" cy="166.70" r="0.90" fill="#2e2e2e" stroke="none" stroke-width="0" />
<circle cx="642.18" cy="168.22" r="0.90" fill="#2e2e2e" stroke="none" stroke-width="0" />
<circle cx="641.10" cy="173.40" r="0.70" fill="#aaa" stroke="none" stroke-width="0" />
<circle cx="638.50" cy="174.90" r="0.70" fill="#aaa" stroke="none" stroke-width="0" />
<circle cx="635.90" cy="173.40" r="0.70" fill="#aaa" stroke="none" stroke-width="0" />
<circle cx="635.90" cy="170.40" r="0.70" fill="#aaa" stroke="none" stroke-width="0" />
<circle cx="638.50" cy="168.90" r="0.70" fill="#aaa" stroke="none" stroke-width="0" />
<circle cx="641.10" cy="170.40" r="0.70" fill="#aaa" stroke="none" stroke-width="0" />
<circle cx="638.50" cy="172.40" r="1.30" fill="#f2f2f2" stroke="none" stroke-width="0" />
<line x1="638.50" y1="168.40" x2="638.50" y2="175.70" stroke="#ddd" stroke-width="0.9" />
<circle cx="682.50" cy="171.90" r="12.20" fill="#fff" stroke="#1a1a1a" stroke-width="1.5" />
<circle cx="682.50" cy="171.90" r="9.10" fill="none" stroke="#8a8a8a" stroke-width="2.0" stroke-dasharray="1.20 0.60"/>
<circle cx="682.50" cy="171.90" r="6.30" fill="#fff" stroke="#111" stroke-width="1.2" />
<circle cx="682.50" cy="171.90" r="4.90" fill="#2e2e2e" stroke="none" stroke-width="0" />
<circle cx="687.70" cy="171.90" r="0.90" fill="#2e2e2e" stroke="none" stroke-width="0" />
<circle cx="686.18" cy="175.58" r="0.90" fill="#2e2e2e" stroke="none" stroke-width="0" />
<circle cx="682.50" cy="177.10" r="0.90" fill="#2e2e2e" stroke="none" stroke-width="0" />
<circle cx="678.82" cy="175.58" r="0.90" fill="#2e2e2e" stroke="none" stroke-width="0" />
<circle cx="677.30" cy="171.90" r="0.90" fill="#2e2e2e" stroke="none" stroke-width="0" />
<circle cx="678.82" cy="168.22" r="0.90" fill="#2e2e2e" stroke="none" stroke-width="0" />
<circle cx="682.50" cy="166.70" r="0.90" fill="#2e2e2e" stroke="none" stroke-width="0" />
<circle cx="686.18" cy="168.22" r="0.90" fill="#2e2e2e" stroke="none" stroke-width="0" />
<circle cx="685.10" cy="173.40" r="0.70" fill="#aaa" stroke="none" stroke-width="0" />
<circle cx="682.50" cy="174.90" r="0.70" fill="#aaa" stroke="none" stroke-width="0" />
<circle cx="679.90" cy="173.40" r="0.70" fill="#aaa" stroke="none" stroke-width="0" />
<circle cx="679.90" cy="170.40" r="0.70" fill="#aaa" stroke="none" stroke-width="0" />
<circle cx="682.50" cy="168.90" r="0.70" fill="#aaa" stroke="none" stroke-width="0" />
<circle cx="685.10" cy="170.40" r="0.70" fill="#aaa" stroke="none" stroke-width="0" />
<circle cx="682.50" cy="172.40" r="1.30" fill="#f2f2f2" stroke="none" stroke-width="0" />
<line x1="682.50" y1="168.40" x2="682.50" y2="175.70" stroke="#ddd" stroke-width="0.9" />
<polygon points="645.50,205.95 638.40,210.05 631.30,205.95 631.30,197.75 638.40,193.65 645.50,197.75" fill="#fff" stroke="#111" stroke-width="1.5" />
<polygon points="644.12,205.15 638.40,208.45 632.68,205.15 632.68,198.55 638.40,195.25 644.12,198.55" fill="none" stroke="#666" stroke-width="0.8" />
<circle cx="638.40" cy="201.85" r="5.40" fill="#fff" stroke="#111" stroke-width="1.6" />
<circle cx="636.32" cy="200.65" r="1.00" fill="#777" stroke="none" stroke-width="0" />
<circle cx="640.48" cy="200.65" r="1.00" fill="#777" stroke="none" stroke-width="0" />
<circle cx="638.40" cy="203.65" r="1.60" fill="#fff" stroke="none" stroke-width="0" />
<line x1="638.40" y1="198.35" x2="638.40" y2="202.35" stroke="#777" stroke-width="0.9" />
<circle cx="682.50" cy="201.50" r="12.50" fill="#fff" stroke="#111" stroke-width="1.3" />
<circle cx="682.50" cy="201.50" r="8.60" fill="#999" stroke="#222" stroke-width="1.6" />
<circle cx="688.30" cy="201.50" r="1.10" fill="#f0f0f0" stroke="none" stroke-width="0" />
<circle cx="687.19" cy="204.91" r="1.10" fill="#f0f0f0" stroke="none" stroke-width="0" />
<circle cx="684.29" cy="207.02" r="1.10" fill="#f0f0f0" stroke="none" stroke-width="0" />
<circle cx="680.71" cy="207.02" r="1.10" fill="#f0f0f0" stroke="none" stroke-width="0" />
<circle cx="677.81" cy="204.91" r="1.10" fill="#f0f0f0" stroke="none" stroke-width="0" />
<circle cx="676.70" cy="201.50" r="1.10" fill="#f0f0f0" stroke="none" stroke-width="0" />
<circle cx="677.81" cy="198.09" r="1.10" fill="#f0f0f0" stroke="none" stroke-width="0" />
<circle cx="680.71" cy="195.98" r="1.10" fill="#f0f0f0" stroke="none" stroke-width="0" />
<circle cx="684.29" cy="195.98" r="1.10" fill="#f0f0f0" stroke="none" stroke-width="0" />
<circle cx="687.19" cy="198.09" r="1.10" fill="#f0f0f0" stroke="none" stroke-width="0" />
<circle cx="685.50" cy="201.50" r="1.10" fill="#f0f0f0" stroke="none" stroke-width="0" />
<circle cx="683.43" cy="204.35" r="1.10" fill="#f0f0f0" stroke="none" stroke-width="0" />
<circle cx="680.07" cy="203.26" r="1.10" fill="#f0f0f0" stroke="none" stroke-width="0" />
<circle cx="680.07" cy="199.74" r="1.10" fill="#f0f0f0" stroke="none" stroke-width="0" />
<circle cx="683.43" cy="198.65" r="1.10" fill="#f0f0f0" stroke="none" stroke-width="0" />
<circle cx="682.50" cy="201.50" r="1.00" fill="#f0f0f0" stroke="none" stroke-width="0" />
<text x="577.50" y="166.60" font-size="7.6" text-anchor="start" font-weight="bold" textLength="16.20" lengthAdjust="spacingAndGlyphs" fill="#151520" stroke="#151520" stroke-width="0.25">CN1</text>
<text x="621.90" y="158.80" font-size="7.6" text-anchor="start" font-weight="bold" textLength="21.80" lengthAdjust="spacingAndGlyphs" fill="#151520" stroke="#151520" stroke-width="0.25">CN5B</text>
<text x="678.00" y="158.80" font-size="7.6" text-anchor="start" font-weight="bold" textLength="21.60" lengthAdjust="spacingAndGlyphs" fill="#151520" stroke="#151520" stroke-width="0.25">CN5A</text>
<text x="614.00" y="205.20" font-size="7.6" text-anchor="start" font-weight="bold" textLength="16.00" lengthAdjust="spacingAndGlyphs" fill="#151520" stroke="#151520" stroke-width="0.25">CN3</text>
<text x="695.60" y="205.20" font-size="7.6" text-anchor="start" font-weight="bold" textLength="16.00" lengthAdjust="spacingAndGlyphs" fill="#151520" stroke="#151520" stroke-width="0.25">CN2</text>
<line x1="568.00" y1="224.90" x2="714.00" y2="224.90" stroke="#888" stroke-width="0.8" />
<polyline points="695.70,174.70 727.20,174.70 766.30,281.90" fill="none" stroke="#333" stroke-width="1" />
<line x1="727.20" y1="174.70" x2="768.00" y2="367.50" stroke="#333" stroke-width="1" />
<polygon points="766.30,281.90 759.57,271.05 764.46,269.27" fill="#000"/>
<polygon points="768.00,367.50 762.87,355.81 767.96,354.73" fill="#000"/>
<rect x="765.90" y="245.00" width="135.52" height="63.80" rx="7.04" fill="#fff" stroke="#222" stroke-width="1.1440000000000001" />
<rect x="767.48" y="246.58" width="132.35" height="60.63" rx="5.72" fill="none" stroke="#aaa" stroke-width="0.616" />
<circle cx="770.83" cy="250.10" r="3.78" fill="#fff" stroke="#333" stroke-width="0.9680000000000001" />
<circle cx="770.83" cy="250.10" r="1.85" fill="none" stroke="#555" stroke-width="0.792" />
<circle cx="896.49" cy="250.10" r="3.78" fill="#fff" stroke="#333" stroke-width="0.9680000000000001" />
<circle cx="896.49" cy="250.10" r="1.85" fill="none" stroke="#555" stroke-width="0.792" />
<path d="M767.22,256.44 Q771.18,257.32 775.58,252.92 Q778.22,248.52 779.98,246.58" fill="none" stroke="#444" stroke-width="0.792" />
<path d="M900.10,256.44 Q896.14,257.32 891.74,252.92 Q889.10,248.52 887.34,246.58" fill="none" stroke="#444" stroke-width="0.792" />
<path d="M804.97,301.58 L804.97,261.72 Q804.97,257.76 809.37,256.44 Q813.77,255.12 815.97,250.28 Q817.29,246.32 821.69,246.32 L880.21,246.32 Q884.61,246.32 888.13,250.28 Q891.65,255.56 896.93,257.32 Q899.57,258.64 899.57,262.60 L899.57,301.58 Q899.57,306.86 894.29,306.86 L810.25,306.86 Q804.97,306.86 804.97,301.58 Z" fill="none" stroke="#222" stroke-width="1.056" />
<path d="M806.56,300.00 L806.56,261.72 Q806.56,259.34 810.96,258.02 Q815.36,256.70 817.56,251.86 Q818.88,247.90 823.28,247.90 L878.63,247.90 Q883.03,247.90 886.55,251.86 Q890.07,257.14 895.35,258.90 Q897.99,260.22 897.99,262.60 L897.99,300.00 Q897.99,305.28 892.71,305.28 L811.84,305.28 Q806.56,305.28 806.56,300.00 Z" fill="none" stroke="#666" stroke-width="0.792" />
<rect x="771.18" y="259.78" width="32.21" height="33.62" rx="3.52" fill="#3a3a3a" stroke="#111" stroke-width="2.024" />
<rect x="773.47" y="262.07" width="27.63" height="29.04" rx="2.64" fill="none" stroke="#333" stroke-width="1.1440000000000001" />
<rect x="780.24" y="260.84" width="14.08" height="2.29" rx="0" fill="#333" stroke="none" stroke-width="0" />
<rect x="780.24" y="290.06" width="14.08" height="2.29" rx="0" fill="#333" stroke="none" stroke-width="0" />
<rect x="772.24" y="270.43" width="2.11" height="12.32" rx="0" fill="#333" stroke="none" stroke-width="0" />
<rect x="800.22" y="270.43" width="2.11" height="12.32" rx="0" fill="#333" stroke="none" stroke-width="0" />
<circle cx="775.40" cy="263.92" r="2.73" fill="#fafafa" stroke="#777" stroke-width="0.792" />
<circle cx="775.40" cy="263.92" r="1.32" fill="#fff" stroke="#999" stroke-width="0.528" />
<circle cx="799.16" cy="263.92" r="2.73" fill="#fafafa" stroke="#777" stroke-width="0.792" />
<circle cx="799.16" cy="263.92" r="1.32" fill="#fff" stroke="#999" stroke-width="0.528" />
<circle cx="775.40" cy="289.26" r="2.73" fill="#fafafa" stroke="#777" stroke-width="0.792" />
<circle cx="775.40" cy="289.26" r="1.32" fill="#fff" stroke="#999" stroke-width="0.528" />
<circle cx="799.16" cy="289.26" r="2.73" fill="#fafafa" stroke="#777" stroke-width="0.792" />
<circle cx="799.16" cy="289.26" r="1.32" fill="#fff" stroke="#999" stroke-width="0.528" />
<circle cx="787.28" cy="276.59" r="13.20" fill="#9a9a9a" stroke="#111" stroke-width="1.76" />
<circle cx="787.28" cy="276.59" r="10.91" fill="#b4b4b4" stroke="#444" stroke-width="0.88" />
<line x1="787.28" y1="276.59" x2="787.28" y2="287.15" stroke="#a8a8a8" stroke-width="1.9360000000000002" />
<line x1="787.28" y1="276.59" x2="778.14" y2="271.31" stroke="#a8a8a8" stroke-width="1.9360000000000002" />
<line x1="787.28" y1="276.59" x2="796.43" y2="271.31" stroke="#a8a8a8" stroke-width="1.9360000000000002" />
<circle cx="787.28" cy="269.55" r="1.94" fill="#fafafa" stroke="#777" stroke-width="0.7040000000000001" />
<circle cx="781.19" cy="273.07" r="1.94" fill="#fafafa" stroke="#777" stroke-width="0.7040000000000001" />
<circle cx="793.38" cy="273.07" r="1.94" fill="#fafafa" stroke="#777" stroke-width="0.7040000000000001" />
<circle cx="793.38" cy="280.11" r="1.94" fill="#fafafa" stroke="#777" stroke-width="0.7040000000000001" />
<circle cx="781.19" cy="280.11" r="1.94" fill="#fafafa" stroke="#777" stroke-width="0.7040000000000001" />
<circle cx="787.28" cy="276.59" r="1.94" fill="#fafafa" stroke="#777" stroke-width="0.7040000000000001" />
<circle cx="783.38" cy="268.22" r="0.97" fill="#111" stroke="none" stroke-width="0" />
<circle cx="778.08" cy="275.79" r="0.97" fill="#111" stroke="none" stroke-width="0" />
<circle cx="796.21" cy="278.98" r="0.97" fill="#111" stroke="none" stroke-width="0" />
<circle cx="791.90" cy="284.59" r="0.97" fill="#111" stroke="none" stroke-width="0" />
<circle cx="852.84" cy="253.01" r="3.61" fill="#d8d8d8" stroke="#444" stroke-width="0.88" />
<circle cx="852.84" cy="253.01" r="2.24" fill="#111" stroke="none" stroke-width="0" />
<circle cx="812.54" cy="278.97" r="3.61" fill="#d8d8d8" stroke="#444" stroke-width="0.88" />
<circle cx="812.54" cy="278.97" r="2.24" fill="#111" stroke="none" stroke-width="0" />
<circle cx="893.32" cy="278.97" r="3.61" fill="#d8d8d8" stroke="#444" stroke-width="0.88" />
<circle cx="893.32" cy="278.97" r="2.24" fill="#111" stroke="none" stroke-width="0" />
<circle cx="852.84" cy="300.62" r="3.61" fill="#d8d8d8" stroke="#444" stroke-width="0.88" />
<circle cx="852.84" cy="300.62" r="2.24" fill="#111" stroke="none" stroke-width="0" />
<polygon points="839.82,263.04 836.48,268.83 829.79,268.83 826.44,263.04 829.79,257.25 836.48,257.25" fill="#2a2a2a" stroke="#111" stroke-width="1.056" />
<circle cx="833.13" cy="263.04" r="3.87" fill="#1a1a1a" stroke="#000" stroke-width="0.7040000000000001" />
<circle cx="833.13" cy="263.57" r="2.29" fill="#f4f4f4" stroke="none" stroke-width="0" />
<line x1="833.13" y1="260.05" x2="833.13" y2="262.16" stroke="#f4f4f4" stroke-width="1.056" />
<circle cx="830.84" cy="263.48" r="0.70" fill="#ddd" stroke="none" stroke-width="0" />
<circle cx="835.42" cy="263.48" r="0.70" fill="#ddd" stroke="none" stroke-width="0" />
<polygon points="878.54,263.04 875.20,268.83 868.51,268.83 865.16,263.04 868.51,257.25 875.20,257.25" fill="#2a2a2a" stroke="#111" stroke-width="1.056" />
<circle cx="871.85" cy="263.04" r="3.87" fill="#1a1a1a" stroke="#000" stroke-width="0.7040000000000001" />
<circle cx="871.85" cy="263.57" r="2.29" fill="#f4f4f4" stroke="none" stroke-width="0" />
<line x1="871.85" y1="260.05" x2="871.85" y2="262.16" stroke="#f4f4f4" stroke-width="1.056" />
<circle cx="869.56" cy="263.48" r="0.70" fill="#ddd" stroke="none" stroke-width="0" />
<circle cx="874.14" cy="263.48" r="0.70" fill="#ddd" stroke="none" stroke-width="0" />
<polygon points="838.92,293.14 833.13,296.48 827.34,293.14 827.34,286.45 833.13,283.10 838.92,286.45" fill="#2a2a2a" stroke="#111" stroke-width="1.056" />
<circle cx="833.13" cy="289.79" r="3.87" fill="#1a1a1a" stroke="#000" stroke-width="0.7040000000000001" />
<circle cx="833.13" cy="290.32" r="2.29" fill="#f4f4f4" stroke="none" stroke-width="0" />
<line x1="833.13" y1="286.80" x2="833.13" y2="288.91" stroke="#f4f4f4" stroke-width="1.056" />
<circle cx="830.84" cy="290.23" r="0.70" fill="#ddd" stroke="none" stroke-width="0" />
<circle cx="835.42" cy="290.23" r="0.70" fill="#ddd" stroke="none" stroke-width="0" />
<circle cx="872.20" cy="289.79" r="9.90" fill="#fff" stroke="#111" stroke-width="1.0296" />
<circle cx="872.20" cy="289.79" r="6.97" fill="#555" stroke="#111" stroke-width="0.9504" />
<line x1="874.18" y1="289.79" x2="877.35" y2="289.79" stroke="#bbb" stroke-width="0.792" />
<line x1="873.60" y1="291.19" x2="875.84" y2="293.43" stroke="#bbb" stroke-width="0.792" />
<line x1="872.20" y1="291.77" x2="872.20" y2="294.94" stroke="#bbb" stroke-width="0.792" />
<line x1="870.80" y1="291.19" x2="868.56" y2="293.43" stroke="#bbb" stroke-width="0.792" />
<line x1="870.22" y1="289.79" x2="867.06" y2="289.79" stroke="#bbb" stroke-width="0.792" />
<line x1="870.80" y1="288.39" x2="868.56" y2="286.15" stroke="#bbb" stroke-width="0.792" />
<line x1="872.20" y1="287.81" x2="872.20" y2="284.64" stroke="#bbb" stroke-width="0.792" />
<line x1="873.60" y1="288.39" x2="875.84" y2="286.15" stroke="#bbb" stroke-width="0.792" />
<line x1="868.24" y1="289.79" x2="876.16" y2="289.79" stroke="#ccc" stroke-width="0.9504" />
<rect x="765.70" y="336.30" width="135.52" height="63.80" rx="7.04" fill="#fff" stroke="#222" stroke-width="1.1440000000000001" />
<rect x="767.28" y="337.88" width="132.35" height="60.63" rx="5.72" fill="none" stroke="#aaa" stroke-width="0.616" />
<circle cx="770.63" cy="341.40" r="3.78" fill="#fff" stroke="#333" stroke-width="0.9680000000000001" />
<circle cx="770.63" cy="341.40" r="1.85" fill="none" stroke="#555" stroke-width="0.792" />
<circle cx="896.29" cy="341.40" r="3.78" fill="#fff" stroke="#333" stroke-width="0.9680000000000001" />
<circle cx="896.29" cy="341.40" r="1.85" fill="none" stroke="#555" stroke-width="0.792" />
<path d="M767.02,347.74 Q770.98,348.62 775.38,344.22 Q778.02,339.82 779.78,337.88" fill="none" stroke="#444" stroke-width="0.792" />
<path d="M899.90,347.74 Q895.94,348.62 891.54,344.22 Q888.90,339.82 887.14,337.88" fill="none" stroke="#444" stroke-width="0.792" />
<path d="M804.77,392.88 L804.77,353.02 Q804.77,349.06 809.17,347.74 Q813.57,346.42 815.77,341.58 Q817.09,337.62 821.49,337.62 L880.01,337.62 Q884.41,337.62 887.93,341.58 Q891.45,346.86 896.73,348.62 Q899.37,349.94 899.37,353.90 L899.37,392.88 Q899.37,398.16 894.09,398.16 L810.05,398.16 Q804.77,398.16 804.77,392.88 Z" fill="none" stroke="#222" stroke-width="1.056" />
<path d="M806.36,391.30 L806.36,353.02 Q806.36,350.64 810.76,349.32 Q815.16,348.00 817.36,343.16 Q818.68,339.20 823.08,339.20 L878.43,339.20 Q882.83,339.20 886.35,343.16 Q889.87,348.44 895.15,350.20 Q897.79,351.52 897.79,353.90 L897.79,391.30 Q897.79,396.58 892.51,396.58 L811.64,396.58 Q806.36,396.58 806.36,391.30 Z" fill="none" stroke="#666" stroke-width="0.792" />
<rect x="770.98" y="351.08" width="32.21" height="33.62" rx="3.52" fill="#3a3a3a" stroke="#111" stroke-width="2.024" />
<rect x="773.27" y="353.37" width="27.63" height="29.04" rx="2.64" fill="none" stroke="#333" stroke-width="1.1440000000000001" />
<rect x="780.04" y="352.14" width="14.08" height="2.29" rx="0" fill="#333" stroke="none" stroke-width="0" />
<rect x="780.04" y="381.36" width="14.08" height="2.29" rx="0" fill="#333" stroke="none" stroke-width="0" />
<rect x="772.04" y="361.73" width="2.11" height="12.32" rx="0" fill="#333" stroke="none" stroke-width="0" />
<rect x="800.02" y="361.73" width="2.11" height="12.32" rx="0" fill="#333" stroke="none" stroke-width="0" />
<circle cx="775.20" cy="355.22" r="2.73" fill="#fafafa" stroke="#777" stroke-width="0.792" />
<circle cx="775.20" cy="355.22" r="1.32" fill="#fff" stroke="#999" stroke-width="0.528" />
<circle cx="798.96" cy="355.22" r="2.73" fill="#fafafa" stroke="#777" stroke-width="0.792" />
<circle cx="798.96" cy="355.22" r="1.32" fill="#fff" stroke="#999" stroke-width="0.528" />
<circle cx="775.20" cy="380.56" r="2.73" fill="#fafafa" stroke="#777" stroke-width="0.792" />
<circle cx="775.20" cy="380.56" r="1.32" fill="#fff" stroke="#999" stroke-width="0.528" />
<circle cx="798.96" cy="380.56" r="2.73" fill="#fafafa" stroke="#777" stroke-width="0.792" />
<circle cx="798.96" cy="380.56" r="1.32" fill="#fff" stroke="#999" stroke-width="0.528" />
<circle cx="787.08" cy="367.89" r="13.20" fill="#9a9a9a" stroke="#111" stroke-width="1.76" />
<circle cx="787.08" cy="367.89" r="10.91" fill="#b4b4b4" stroke="#444" stroke-width="0.88" />
<line x1="787.08" y1="367.89" x2="787.08" y2="378.45" stroke="#a8a8a8" stroke-width="1.9360000000000002" />
<line x1="787.08" y1="367.89" x2="777.94" y2="362.61" stroke="#a8a8a8" stroke-width="1.9360000000000002" />
<line x1="787.08" y1="367.89" x2="796.23" y2="362.61" stroke="#a8a8a8" stroke-width="1.9360000000000002" />
<circle cx="787.08" cy="360.85" r="1.94" fill="#fafafa" stroke="#777" stroke-width="0.7040000000000001" />
<circle cx="780.99" cy="364.37" r="1.94" fill="#fafafa" stroke="#777" stroke-width="0.7040000000000001" />
<circle cx="793.18" cy="364.37" r="1.94" fill="#fafafa" stroke="#777" stroke-width="0.7040000000000001" />
<circle cx="793.18" cy="371.41" r="1.94" fill="#fafafa" stroke="#777" stroke-width="0.7040000000000001" />
<circle cx="780.99" cy="371.41" r="1.94" fill="#fafafa" stroke="#777" stroke-width="0.7040000000000001" />
<circle cx="787.08" cy="367.89" r="1.94" fill="#fafafa" stroke="#777" stroke-width="0.7040000000000001" />
<circle cx="783.18" cy="359.52" r="0.97" fill="#111" stroke="none" stroke-width="0" />
<circle cx="777.88" cy="367.09" r="0.97" fill="#111" stroke="none" stroke-width="0" />
<circle cx="796.01" cy="370.28" r="0.97" fill="#111" stroke="none" stroke-width="0" />
<circle cx="791.70" cy="375.89" r="0.97" fill="#111" stroke="none" stroke-width="0" />
<circle cx="852.64" cy="344.31" r="3.61" fill="#d8d8d8" stroke="#444" stroke-width="0.88" />
<circle cx="852.64" cy="344.31" r="2.24" fill="#111" stroke="none" stroke-width="0" />
<circle cx="812.34" cy="370.27" r="3.61" fill="#d8d8d8" stroke="#444" stroke-width="0.88" />
<circle cx="812.34" cy="370.27" r="2.24" fill="#111" stroke="none" stroke-width="0" />
<circle cx="893.12" cy="370.27" r="3.61" fill="#d8d8d8" stroke="#444" stroke-width="0.88" />
<circle cx="893.12" cy="370.27" r="2.24" fill="#111" stroke="none" stroke-width="0" />
<circle cx="852.64" cy="391.92" r="3.61" fill="#d8d8d8" stroke="#444" stroke-width="0.88" />
<circle cx="852.64" cy="391.92" r="2.24" fill="#111" stroke="none" stroke-width="0" />
<polygon points="838.72,357.68 832.93,361.03 827.14,357.68 827.14,351.00 832.93,347.65 838.72,351.00" fill="#2a2a2a" stroke="#111" stroke-width="1.056" />
<circle cx="832.93" cy="354.34" r="3.87" fill="#1a1a1a" stroke="#000" stroke-width="0.7040000000000001" />
<circle cx="832.93" cy="354.87" r="2.29" fill="#f4f4f4" stroke="none" stroke-width="0" />
<line x1="832.93" y1="351.35" x2="832.93" y2="353.46" stroke="#f4f4f4" stroke-width="1.056" />
<circle cx="830.64" cy="354.78" r="0.70" fill="#ddd" stroke="none" stroke-width="0" />
<circle cx="835.22" cy="354.78" r="0.70" fill="#ddd" stroke="none" stroke-width="0" />
<polygon points="877.44,357.68 871.65,361.03 865.86,357.68 865.86,351.00 871.65,347.65 877.44,351.00" fill="#2a2a2a" stroke="#111" stroke-width="1.056" />
<circle cx="871.65" cy="354.34" r="3.87" fill="#1a1a1a" stroke="#000" stroke-width="0.7040000000000001" />
<circle cx="871.65" cy="354.87" r="2.29" fill="#f4f4f4" stroke="none" stroke-width="0" />
<line x1="871.65" y1="351.35" x2="871.65" y2="353.46" stroke="#f4f4f4" stroke-width="1.056" />
<circle cx="869.36" cy="354.78" r="0.70" fill="#ddd" stroke="none" stroke-width="0" />
<circle cx="873.94" cy="354.78" r="0.70" fill="#ddd" stroke="none" stroke-width="0" />
<polygon points="838.72,384.44 832.93,387.78 827.14,384.44 827.14,377.75 832.93,374.40 838.72,377.75" fill="#2a2a2a" stroke="#111" stroke-width="1.056" />
<circle cx="832.93" cy="381.09" r="3.87" fill="#1a1a1a" stroke="#000" stroke-width="0.7040000000000001" />
<circle cx="832.93" cy="381.62" r="2.29" fill="#f4f4f4" stroke="none" stroke-width="0" />
<line x1="832.93" y1="378.10" x2="832.93" y2="380.21" stroke="#f4f4f4" stroke-width="1.056" />
<circle cx="830.64" cy="381.53" r="0.70" fill="#ddd" stroke="none" stroke-width="0" />
<circle cx="835.22" cy="381.53" r="0.70" fill="#ddd" stroke="none" stroke-width="0" />
<circle cx="872.00" cy="381.09" r="9.90" fill="#fff" stroke="#111" stroke-width="1.0296" />
<circle cx="872.00" cy="381.09" r="6.97" fill="#555" stroke="#111" stroke-width="0.9504" />
<line x1="873.98" y1="381.09" x2="877.15" y2="381.09" stroke="#bbb" stroke-width="0.792" />
<line x1="873.40" y1="382.49" x2="875.64" y2="384.73" stroke="#bbb" stroke-width="0.792" />
<line x1="872.00" y1="383.07" x2="872.00" y2="386.24" stroke="#bbb" stroke-width="0.792" />
<line x1="870.60" y1="382.49" x2="868.36" y2="384.73" stroke="#bbb" stroke-width="0.792" />
<line x1="870.02" y1="381.09" x2="866.86" y2="381.09" stroke="#bbb" stroke-width="0.792" />
<line x1="870.60" y1="379.69" x2="868.36" y2="377.45" stroke="#bbb" stroke-width="0.792" />
<line x1="872.00" y1="379.11" x2="872.00" y2="375.94" stroke="#bbb" stroke-width="0.792" />
<line x1="873.40" y1="379.69" x2="875.64" y2="377.45" stroke="#bbb" stroke-width="0.792" />
<line x1="868.04" y1="381.09" x2="875.96" y2="381.09" stroke="#ccc" stroke-width="0.9504" />
<line x1="765.70" y1="404.30" x2="901.00" y2="404.30" stroke="#111" stroke-width="2.2" />
<polygon points="761.00,100.00 790.00,86.00 840.00,118.00 838.00,172.00 761.00,126.50" fill="#fff" stroke="#1e1e1e" stroke-width="1.1" />
<polygon points="790.00,86.00 823.30,70.80 878.00,99.00 840.00,118.00" fill="#fff" stroke="#1e1e1e" stroke-width="1.1" />
<polygon points="770.00,77.00 805.00,60.80 823.30,70.80 790.00,86.00" fill="#fff" stroke="#1e1e1e" stroke-width="1.1" />
<line x1="780.00" y1="92.00" x2="780.00" y2="133.00" stroke="#1e1e1e" stroke-width="1" />
<line x1="786.50" y1="89.00" x2="786.50" y2="136.00" stroke="#1e1e1e" stroke-width="1" />
<line x1="761.00" y1="126.50" x2="838.00" y2="172.00" stroke="#1e1e1e" stroke-width="1.2" />
<line x1="818.00" y1="74.50" x2="872.00" y2="102.50" stroke="#111" stroke-width="2.2" />
<line x1="813.00" y1="77.00" x2="866.00" y2="105.00" stroke="#111" stroke-width="1" />
<line x1="800.00" y1="87.50" x2="848.00" y2="113.50" stroke="#111" stroke-width="2.6" />
<line x1="796.00" y1="90.00" x2="844.00" y2="116.00" stroke="#111" stroke-width="1" />
<line x1="787.00" y1="108.00" x2="836.00" y2="135.00" stroke="#111" stroke-width="2.6" />
<line x1="787.00" y1="111.50" x2="836.00" y2="138.50" stroke="#111" stroke-width="1" />
<line x1="787.00" y1="128.00" x2="836.00" y2="155.00" stroke="#111" stroke-width="2.4" />
<line x1="787.00" y1="131.50" x2="836.00" y2="158.50" stroke="#111" stroke-width="1" />
<line x1="788.00" y1="98.00" x2="838.00" y2="126.00" stroke="#1e1e1e" stroke-width="1" />
<line x1="788.00" y1="120.00" x2="838.00" y2="148.00" stroke="#1e1e1e" stroke-width="1" />
<polygon points="837.90,124.00 838.90,119.70 882.50,98.90 886.50,100.50 888.40,104.00 888.40,156.00 845.50,177.50 840.00,175.50 837.90,171.20" fill="#fff" stroke="#1e1e1e" stroke-width="1.2" />
<line x1="838.90" y1="119.70" x2="844.00" y2="124.50" stroke="#1e1e1e" stroke-width="1" />
<line x1="844.00" y1="124.50" x2="888.40" y2="104.00" stroke="#1e1e1e" stroke-width="1" />
<line x1="844.00" y1="124.50" x2="844.50" y2="177.00" stroke="#1e1e1e" stroke-width="1.1" />
<ellipse cx="849" cy="129.5" rx="2.3" ry="2.7" fill="#fff" stroke="#1e1e1e" stroke-width="1"/>
<ellipse cx="884.5" cy="107.5" rx="2.3" ry="2.7" fill="#fff" stroke="#1e1e1e" stroke-width="1"/>
<ellipse cx="849.5" cy="171" rx="2.3" ry="2.7" fill="#fff" stroke="#1e1e1e" stroke-width="1"/>
<ellipse cx="884.5" cy="150" rx="2.3" ry="2.7" fill="#fff" stroke="#1e1e1e" stroke-width="1"/>
<circle cx="849.80" cy="119.70" r="1.80" fill="#222" stroke="none" stroke-width="0" />
<circle cx="885.40" cy="112.80" r="1.80" fill="#222" stroke="none" stroke-width="0" />
<circle cx="839.90" cy="166.20" r="1.80" fill="#222" stroke="none" stroke-width="0" />
<ellipse cx="864.7" cy="140.5" rx="19.8" ry="26.7" transform="rotate(-10 864.7 140.5)" fill="#fff" stroke="#1e1e1e" stroke-width="1.3"/>
<ellipse cx="864.7" cy="140.5" rx="17.6" ry="24.2" transform="rotate(-10 864.7 140.5)" fill="none" stroke="#666" stroke-width="1.2"/>
<ellipse cx="864.7" cy="140.5" rx="15.6" ry="21.8" transform="rotate(-10 864.7 140.5)" fill="none" stroke="#555" stroke-width="0.9"/>
<line x1="858.00" y1="131.00" x2="851.00" y2="122.00" stroke="#1e1e1e" stroke-width="1" />
<line x1="861.00" y1="130.00" x2="855.00" y2="120.50" stroke="#1e1e1e" stroke-width="1" />
<line x1="871.00" y1="131.00" x2="877.00" y2="121.00" stroke="#1e1e1e" stroke-width="1" />
<line x1="874.00" y1="133.00" x2="880.00" y2="124.00" stroke="#1e1e1e" stroke-width="1" />
<line x1="856.00" y1="150.00" x2="850.00" y2="160.00" stroke="#1e1e1e" stroke-width="1" />
<line x1="859.00" y1="151.50" x2="853.00" y2="162.00" stroke="#1e1e1e" stroke-width="1" />
<line x1="872.00" y1="150.00" x2="877.00" y2="160.00" stroke="#1e1e1e" stroke-width="1" />
<line x1="869.00" y1="151.50" x2="874.00" y2="162.00" stroke="#1e1e1e" stroke-width="1" />
<ellipse cx="864.7" cy="140" rx="9" ry="11.5" transform="rotate(-10 864.7 140)" fill="#fff" stroke="#1e1e1e" stroke-width="1.3"/>
<ellipse cx="864.7" cy="140" rx="6.8" ry="8.8" transform="rotate(-10 864.7 140)" fill="#ccc" stroke="#333" stroke-width="1"/>
<polygon points="866.00,135.50 889.40,147.40 885.40,157.30 863.00,146.50" fill="#fff" stroke="#1e1e1e" stroke-width="1.1" />
<ellipse cx="887.4" cy="152.4" rx="4" ry="6" transform="rotate(-15 887.4 152.4)" fill="#fff" stroke="#1e1e1e" stroke-width="1.2"/>
<line x1="868.00" y1="138.50" x2="886.00" y2="147.50" stroke="#888" stroke-width="0.8" />
<polygon points="722.50,98.00 722.50,42.00 727.00,37.50 756.00,47.00 756.00,129.50 744.00,123.00 733.00,116.50 727.00,109.00" fill="#fff" stroke="#1e1e1e" stroke-width="1.1" />
<polygon points="727.00,37.50 778.00,8.50 784.00,8.80 801.00,21.00 756.00,47.00" fill="#fff" stroke="#1e1e1e" stroke-width="1.1" />
<line x1="756.00" y1="47.00" x2="801.00" y2="21.00" stroke="#111" stroke-width="1.8" />
<path d="M722.5,46.80 Q724,46.40 725.3,47.60 L739,52.20 L739.3,55.50 L725.3,51.20 Q723.8,51.40 722.5,52.60" fill="#fff" stroke="#1e1e1e" stroke-width="1.1" />
<path d="M722.5,56.30 Q724,55.90 725.3,57.10 L739,61.70 L739.3,65.00 L725.3,60.70 Q723.8,60.90 722.5,62.10" fill="#fff" stroke="#1e1e1e" stroke-width="1.1" />
<path d="M722.5,65.80 Q724,65.40 725.3,66.60 L739,71.20 L739.3,74.50 L725.3,70.20 Q723.8,70.40 722.5,71.60" fill="#fff" stroke="#1e1e1e" stroke-width="1.1" />
<path d="M722.5,75.30 Q724,74.90 725.3,76.10 L739,80.70 L739.3,84.00 L725.3,79.70 Q723.8,79.90 722.5,81.10" fill="#fff" stroke="#1e1e1e" stroke-width="1.1" />
<path d="M722.5,84.80 Q724,84.40 725.3,85.60 L739,90.20 L739.3,93.50 L725.3,89.20 Q723.8,89.40 722.5,90.60" fill="#fff" stroke="#1e1e1e" stroke-width="1.1" />
<path d="M722.5,94.20 Q724,93.80 725.3,95.00 L739,99.60 L739.3,102.90 L725.3,98.60 Q723.8,98.80 722.5,100.00" fill="#fff" stroke="#1e1e1e" stroke-width="1.1" />
<line x1="725.30" y1="42.00" x2="725.30" y2="99.00" stroke="#444" stroke-width="0.9" />
<line x1="727.50" y1="40.50" x2="756.00" y2="49.50" stroke="#555" stroke-width="0.8" />
<line x1="757.20" y1="49.00" x2="757.20" y2="129.00" stroke="#333" stroke-width="1" />
<polyline points="735.00,33.25 736.80,36.85 740.00,35.05 738.30,31.45" fill="none" stroke="#111" stroke-width="1.0" />
<polyline points="739.50,30.69 741.30,34.29 744.50,32.49 742.80,28.89" fill="none" stroke="#111" stroke-width="1.0" />
<polyline points="744.00,28.13 745.80,31.73 749.00,29.93 747.30,26.33" fill="none" stroke="#111" stroke-width="1.0" />
<polyline points="748.50,25.57 750.30,29.17 753.50,27.37 751.80,23.77" fill="none" stroke="#111" stroke-width="1.0" />
<polyline points="753.00,23.01 754.80,26.61 758.00,24.81 756.30,21.21" fill="none" stroke="#111" stroke-width="1.0" />
<polyline points="757.50,20.45 759.30,24.05 762.50,22.25 760.80,18.65" fill="none" stroke="#111" stroke-width="1.0" />
<polyline points="762.00,17.89 763.80,21.49 767.00,19.69 765.30,16.09" fill="none" stroke="#111" stroke-width="1.0" />
<polyline points="766.50,15.32 768.30,18.92 771.50,17.12 769.80,13.52" fill="none" stroke="#111" stroke-width="1.0" />
<polyline points="771.00,12.76 772.80,16.36 776.00,14.56 774.30,10.96" fill="none" stroke="#111" stroke-width="1.0" />
<polyline points="775.50,10.20 777.30,13.80 780.50,12.00 778.80,8.40" fill="none" stroke="#111" stroke-width="1.0" />
<line x1="738.50" y1="36.60" x2="779.50" y2="13.30" stroke="#666" stroke-width="0.8" />
<ellipse cx="749" cy="109" rx="3" ry="3.8" fill="#fff" stroke="#1e1e1e" stroke-width="0.9"/>
<circle cx="749.00" cy="109.30" r="1.20" fill="#111" stroke="none" stroke-width="0" />
<line x1="746.50" y1="75.00" x2="746.50" y2="76.80" stroke="#333" stroke-width="1" />
<line x1="746.50" y1="79.00" x2="746.50" y2="80.80" stroke="#333" stroke-width="1" />
<line x1="746.50" y1="82.00" x2="746.50" y2="83.80" stroke="#333" stroke-width="1" />
<line x1="746.50" y1="87.00" x2="746.50" y2="88.80" stroke="#333" stroke-width="1" />
<line x1="746.50" y1="90.00" x2="746.50" y2="91.80" stroke="#333" stroke-width="1" />
<line x1="761.50" y1="88.00" x2="761.50" y2="128.00" stroke="#1e1e1e" stroke-width="1" />
<line x1="763.75" y1="56.00" x2="763.75" y2="76.00" stroke="#1e1e1e" stroke-width="1" />
<line x1="757.50" y1="50.00" x2="757.50" y2="129.00" stroke="#1e1e1e" stroke-width="1" />
<polygon points="756.00,47.00 801.00,21.00 811.00,29.50 786.00,43.00 770.00,52.00" fill="#fff" stroke="#1e1e1e" stroke-width="1.1" />
<polygon points="786.00,43.00 811.00,29.50 815.70,33.30 815.70,54.70 806.00,60.50 791.00,64.50 786.00,61.00" fill="#fff" stroke="#1e1e1e" stroke-width="1.2" />
<polygon points="761.50,55.00 770.00,52.00 786.00,43.00 786.00,61.00 791.00,64.50 775.00,77.00 761.50,84.00" fill="#fff" stroke="#1e1e1e" stroke-width="1" />
<ellipse cx="794" cy="49" rx="4.6" ry="5.4" transform="rotate(-25 794 49)" fill="#fff" stroke="#1e1e1e" stroke-width="1.1"/>
<ellipse cx="795.6" cy="49.6" rx="3" ry="3.8" transform="rotate(-25 794 49)" fill="#2a2a2a" stroke="#111" stroke-width="0.8"/>
<ellipse cx="808.3" cy="41" rx="4.6" ry="5.4" transform="rotate(-25 808.3 41)" fill="#fff" stroke="#1e1e1e" stroke-width="1.1"/>
<ellipse cx="809.9" cy="41.6" rx="3" ry="3.8" transform="rotate(-25 808.3 41)" fill="#2a2a2a" stroke="#111" stroke-width="0.8"/>
<ellipse cx="808.3" cy="52.4" rx="4.6" ry="5.4" transform="rotate(-25 808.3 52.4)" fill="#fff" stroke="#1e1e1e" stroke-width="1.1"/>
<ellipse cx="809.9" cy="53.0" rx="3" ry="3.8" transform="rotate(-25 808.3 52.4)" fill="#2a2a2a" stroke="#111" stroke-width="0.8"/>
<circle cx="798.50" cy="40.00" r="1.20" fill="#111" stroke="none" stroke-width="0" />
<circle cx="793.50" cy="58.50" r="2.60" fill="#1a1a1a" stroke="none" stroke-width="0" />
<circle cx="797.50" cy="59.50" r="1.30" fill="#222" stroke="none" stroke-width="0" />
<rect x="765.60" y="52.50" width="11.40" height="17.50" rx="0" fill="#fff" stroke="#1e1e1e" stroke-width="1" />
<line x1="766.50" y1="56.00" x2="776.50" y2="54.80" stroke="#444" stroke-width="0.9" />
<line x1="766.50" y1="59.50" x2="776.50" y2="58.30" stroke="#444" stroke-width="0.9" />
<line x1="766.50" y1="63.00" x2="776.50" y2="61.80" stroke="#444" stroke-width="0.9" />
<line x1="766.50" y1="66.50" x2="776.50" y2="65.30" stroke="#444" stroke-width="0.9" />
<polygon points="775.00,59.00 781.00,57.50 782.00,71.50 776.00,73.00" fill="#1c1c1c" stroke="#111" stroke-width="0.8" />
<circle cx="786.25" cy="68.10" r="5.60" fill="#fff" stroke="#111" stroke-width="1.7" />
<line x1="783.50" y1="68.10" x2="789.00" y2="68.10" stroke="#555" stroke-width="1" />
<line x1="786.25" y1="65.30" x2="786.25" y2="70.90" stroke="#555" stroke-width="1" />
<polygon points="779.50,44.00 784.00,41.50 787.00,46.00 787.00,60.00 783.00,63.00 780.00,60.00" fill="#fff" stroke="#1e1e1e" stroke-width="1" />
<line x1="782.00" y1="46.00" x2="782.00" y2="60.00" stroke="#666" stroke-width="0.8" />
<polyline points="757.50,73.00 762.50,75.60 770.60,75.60" fill="none" stroke="#1e1e1e" stroke-width="1" />
<polyline points="762.50,75.60 762.50,81.25 757.50,84.40" fill="none" stroke="#1e1e1e" stroke-width="1" />
<polyline points="770.60,75.60 770.60,81.25 767.50,86.25 761.90,88.10 761.90,92.00" fill="none" stroke="#111" stroke-width="1.8" />
<path d="M756,129.5 L760,131 L761.5,128" fill="none" stroke="#111" stroke-width="1.4" />
    </svg></body></html>
